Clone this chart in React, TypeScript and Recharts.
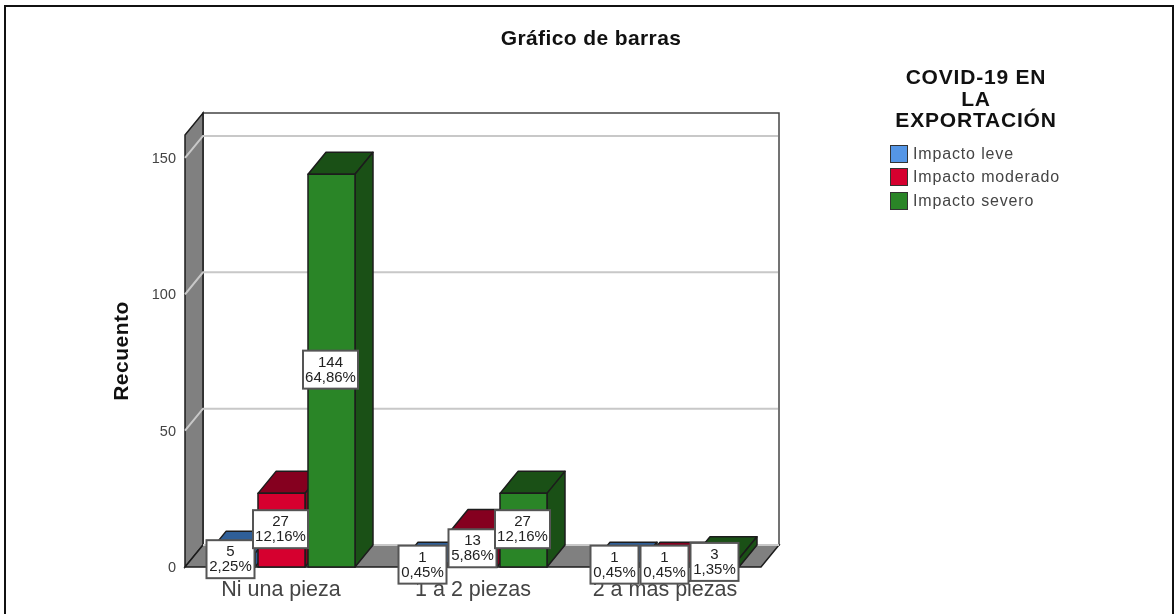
import React from 'react';
import { BarChart, Bar, XAxis, YAxis, LabelList, Legend, Customized } from 'recharts';

const categories = ['Ni una pieza', '1 a 2 piezas', '2 a más piezas'];
const leve = [5, 1, 1];
const moderado = [27, 13, 1];
const severo = [144, 27, 3];
const levePct = ['2,25%', '0,45%', '0,45%'];
const moderadoPct = ['12,16%', '5,86%', '0,45%'];
const severoPct = ['64,86%', '12,16%', '1,35%'];
const yTicks = [0, 50, 100, 150];
const rows = categories.map((name, i) => ({ name, leve: leve[i], moderado: moderado[i], severo: severo[i] }));

const W = 1174, H = 614;
const L = 185, R = 761, T = 135, B = 567, DX = 18, DY = 22;
const Y_MAX = 158.4;
const FONT = '"Liberation Sans", Arial, sans-serif';
const LINE = '#1c1c1c';

const palette = {
  leve: { front: '#5596e6', dark: '#2f5f98' },
  moderado: { front: '#d6002f', dark: '#85001f' },
  severo: { front: '#2a8527', dark: '#1a5016' },
};

const Box3D = (fill: { front: string; dark: string }) => (p: any) => {
  const { x, y, width: w, height: h } = p;
  return (
    <g stroke={LINE} strokeWidth={1.5} strokeLinejoin="round">
      <path d={`M${x},${y} l${DX},${-DY} h${w} l${-DX},${DY} z`} fill={fill.dark} />
      <path d={`M${x + w},${y} l${DX},${-DY} v${h} l${-DX},${DY} z`} fill={fill.dark} />
      <rect x={x} y={y} width={w} height={h} fill={fill.front} />
    </g>
  );
};

const Tag = (pct: string[]) => (p: any) => {
  const { x, y, width: w, height: h, value, index } = p;
  const t = pct[index];
  const bw = t.length > 5 ? 55 : 48;
  const cx = x + w / 2 - 1;
  const cy = y + h / 2 - 1;
  return (
    <g>
      <rect x={cx - bw / 2} y={cy - 19} width={bw} height={38} fill="#fff" stroke="#555" strokeWidth={2} />
      <text x={cx} y={cy - 3} textAnchor="middle" fontSize={15} fontFamily={FONT} fill="#222">{value}</text>
      <text x={cx} y={cy + 12} textAnchor="middle" fontSize={15} fontFamily={FONT} fill="#222">{t}</text>
    </g>
  );
};

const Walls = () => {
  const scale = (v: number) => B - (v * (B - T)) / Y_MAX;
  return (
    <g>
      <rect x={L + DX} y={T - DY} width={R - L} height={B - T} fill="#fff" stroke="#444" strokeWidth={1.5} />
      <path d={`M${L},${T} L${L + DX},${T - DY} V${B - DY} L${L},${B} Z`} fill="#808080" stroke={LINE} strokeWidth={1.5} />
      <path d={`M${L},${B} L${L + DX},${B - DY} H${R + DX} L${R},${B} Z`} fill="#808080" stroke={LINE} strokeWidth={1.5} />
      <path d={`M${L + DX},${B - DY} H${R + DX}`} stroke="#c8c8c8" strokeWidth={2} />
      {yTicks.filter((v) => v > 0).map((v) => (
        <path key={v} d={`M${L},${scale(v)} l${DX},${-DY} H${R + DX - 1}`} stroke="#c8c8c8" strokeWidth={2} fill="none" />
      ))}
      <text x={591} y={45} textAnchor="middle" fontFamily={FONT} fontWeight="bold" fontSize={21} letterSpacing={0.4} fill="#111">Gráfico de barras</text>
    </g>
  );
};

const LegendBox = ({ payload }: any) => (
  <div style={{ fontFamily: FONT, width: 200, position: 'relative' }}>
    <div style={{ textAlign: 'center', fontWeight: 'bold', fontSize: 21, lineHeight: '21.5px', letterSpacing: 0.8, color: '#111', width: 200 }}>
      COVID-19 EN<br />LA<br />EXPORTACIÓN
    </div>
    <div style={{ marginTop: 12, marginLeft: 14 }}>
      {(payload || []).map((it: any) => (
        <div key={it.value} style={{ display: 'flex', alignItems: 'center', height: 23.3, fontSize: 16, letterSpacing: 0.85, color: '#444' }}>
          <span style={{ width: 18, height: 18, background: it.color, border: '1.5px solid #333', boxSizing: 'border-box', display: 'inline-block', marginRight: 5, flex: 'none' }} />
          {it.value}
        </div>
      ))}
    </div>
  </div>
);

export default function App() {
  return (
    <div style={{ position: 'absolute', left: 0, top: 0, width: W, height: H, overflow: 'hidden', background: '#fff' }}>
      <div style={{ position: 'absolute', left: 4, top: 5, width: 1166, height: 640, border: '2px solid #111' }} />
      <div style={{ position: 'absolute', left: 0, top: 0, filter: 'blur(0.5px)' }}>
        <BarChart width={W} height={H} data={rows} margin={{ left: 0, top: T, right: W - R, bottom: 0 }} barSize={47} barGap={3}>
          <Customized component={Walls} />
          <XAxis dataKey="name" height={H - B} axisLine={false} tickLine={false} interval={0} tickMargin={8}
            tick={{ fontSize: 21.5, fontFamily: FONT, fill: '#444' }} />
          <YAxis width={L} domain={[0, Y_MAX]} ticks={yTicks} axisLine={false} tickLine={false} tickMargin={3}
            tick={{ fontSize: 14.5, fontFamily: FONT, fill: '#444' }}
            label={{
              content: () => (
                <text transform={`translate(128,351) rotate(-90)`} textAnchor="middle" fontFamily={FONT} fontWeight="bold" fontSize={21} letterSpacing={0.5} fill="#111">Recuento</text>
              ),
            } as any} />
          <Legend layout="horizontal" align="center" verticalAlign="middle" content={<LegendBox />}
            wrapperStyle={{ position: 'absolute', left: 876, top: 66, width: 200, height: 150, bottom: 'auto', right: 'auto', margin: 0 }} />
          <Bar dataKey="leve" name="Impacto leve" fill={palette.leve.front} shape={Box3D(palette.leve)} isAnimationActive={false}>
            <LabelList dataKey="leve" content={Tag(levePct)} />
          </Bar>
          <Bar dataKey="moderado" name="Impacto moderado" fill={palette.moderado.front} shape={Box3D(palette.moderado)} isAnimationActive={false}>
            <LabelList dataKey="moderado" content={Tag(moderadoPct)} />
          </Bar>
          <Bar dataKey="severo" name="Impacto severo" fill={palette.severo.front} shape={Box3D(palette.severo)} isAnimationActive={false}>
            <LabelList dataKey="severo" content={Tag(severoPct)} />
          </Bar>
        </BarChart>
      </div>
    </div>
  );
}
